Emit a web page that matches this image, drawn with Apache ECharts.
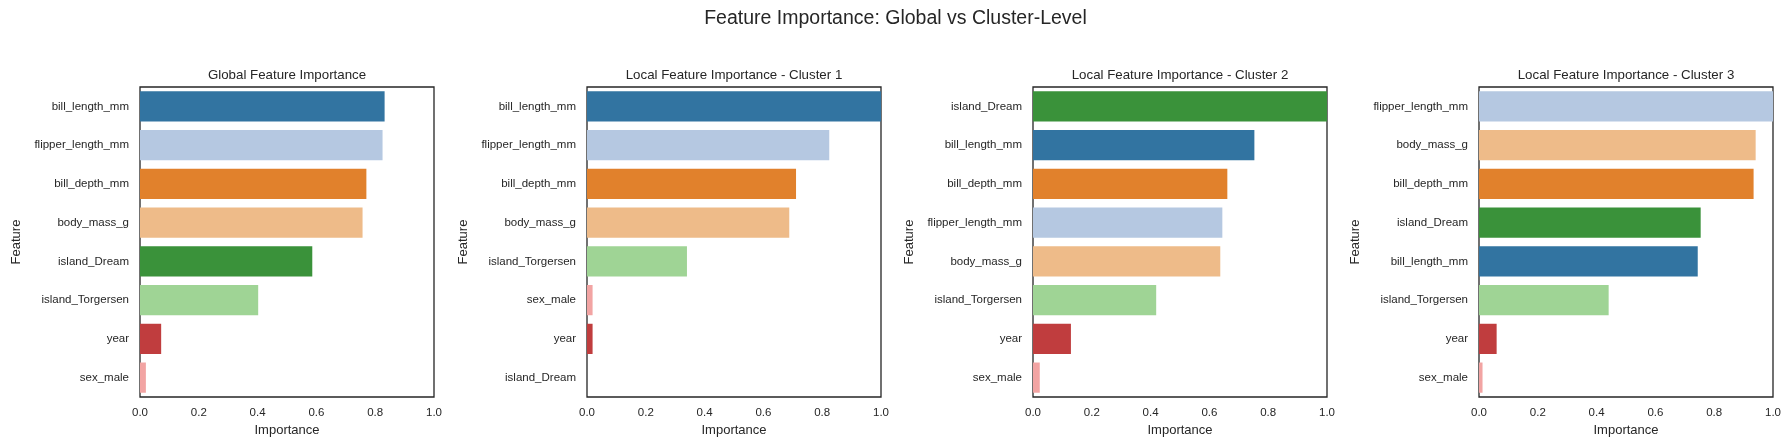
<!DOCTYPE html>
<html>
<head>
<meta charset="utf-8">
<script src="https://cdn.jsdelivr.net/npm/echarts@6/dist/echarts.min.js"></script>
<style>
  html, body { margin: 0; padding: 0; background: #fff; }
  #chart { width: 1791px; height: 446px; }
</style>
</head>
<body>
<div id="chart"></div>
<script>
// data
const globalFeatures = ['bill_length_mm', 'flipper_length_mm', 'bill_depth_mm', 'body_mass_g', 'island_Dream', 'island_Torgersen', 'year', 'sex_male'];
const globalValues = [0.832, 0.825, 0.770, 0.757, 0.586, 0.402, 0.072, 0.020];

const cluster1Features = ['bill_length_mm', 'flipper_length_mm', 'bill_depth_mm', 'body_mass_g', 'island_Torgersen', 'sex_male', 'year', 'island_Dream'];
const cluster1Values = [1.0, 0.824, 0.711, 0.688, 0.340, 0.019, 0.019, 0.0];

const cluster2Features = ['island_Dream', 'bill_length_mm', 'bill_depth_mm', 'flipper_length_mm', 'body_mass_g', 'island_Torgersen', 'year', 'sex_male'];
const cluster2Values = [1.0, 0.753, 0.661, 0.644, 0.637, 0.419, 0.129, 0.023];

const cluster3Features = ['flipper_length_mm', 'body_mass_g', 'bill_depth_mm', 'island_Dream', 'bill_length_mm', 'island_Torgersen', 'year', 'sex_male'];
const cluster3Values = [1.0, 0.941, 0.934, 0.754, 0.744, 0.441, 0.060, 0.012];

const panelTitles = ['Global Feature Importance', 'Local Feature Importance - Cluster 1', 'Local Feature Importance - Cluster 2', 'Local Feature Importance - Cluster 3'];

// tab20 desaturated like seaborn does (saturation 0.75)
const featureColors = {
  bill_length_mm: '#3274a1',
  flipper_length_mm: '#b5c8e1',
  bill_depth_mm: '#e1812c',
  body_mass_g: '#eebb89',
  island_Dream: '#3a923a',
  island_Torgersen: '#9fd495',
  year: '#c03d3e',
  sex_male: '#f2a4a3'
};

const panels = [
  [globalFeatures, globalValues],
  [cluster1Features, cluster1Values],
  [cluster2Features, cluster2Values],
  [cluster3Features, cluster3Values]
];

const gridLefts = [140, 587, 1033, 1479];
const gridWidth = 294;
const gridTop = 87;
const gridHeight = 310;
const textColor = '#262626';
const font = '"Liberation Sans", Arial, sans-serif';

const chart = echarts.init(document.getElementById('chart'));

const titles = [{
  text: 'Feature Importance: Global vs Cluster-Level',
  left: 'center',
  top: 9,
  padding: 0,
  textStyle: { fontSize: 19.5, fontWeight: 'normal', color: textColor, fontFamily: font }
}];
panelTitles.forEach(function (t, i) {
  titles.push({
    text: t,
    left: gridLefts[i] + gridWidth / 2,
    textAlign: 'center',
    top: 69,
    padding: 0,
    textStyle: { fontSize: 13.3, fontWeight: 'normal', color: textColor, fontFamily: font }
  });
});

const option = {
  animation: false,
  backgroundColor: '#fff',
  title: titles,
  grid: gridLefts.map(function (l) {
    return { left: l, top: gridTop, width: gridWidth, height: gridHeight, show: true, borderColor: textColor, borderWidth: 1.3, backgroundColor: 'transparent' };
  }),
  xAxis: panels.map(function (p, i) {
    return {
      type: 'value', gridIndex: i, min: 0, max: 1, interval: 0.2,
      name: 'Importance', nameLocation: 'middle', nameGap: 26,
      nameTextStyle: { fontSize: 13, color: textColor, fontFamily: font },
      axisLine: { show: false }, axisTick: { show: false }, splitLine: { show: false },
      axisLabel: { fontSize: 11.5, color: textColor, fontFamily: font, margin: 10,
        formatter: function (v) { return v.toFixed(1); } }
    };
  }),
  yAxis: panels.map(function (p, i) {
    return {
      type: 'category', gridIndex: i, data: p[0], inverse: true,
      name: 'Feature', nameLocation: 'middle', nameGap: 117, nameRotate: 90,
      nameTextStyle: { fontSize: 13, color: textColor, fontFamily: font },
      axisLine: { show: false }, axisTick: { show: false }, splitLine: { show: false },
      axisLabel: { fontSize: 11.5, color: textColor, fontFamily: font, margin: 11 }
    };
  }),
  series: panels.map(function (p, i) {
    return {
      type: 'bar', xAxisIndex: i, yAxisIndex: i,
      barCategoryGap: '22%',
      data: p[1].map(function (v, j) {
        return { value: v, itemStyle: { color: featureColors[p[0][j]] } };
      })
    };
  })
};

chart.setOption(option);
</script>
</body>
</html>
